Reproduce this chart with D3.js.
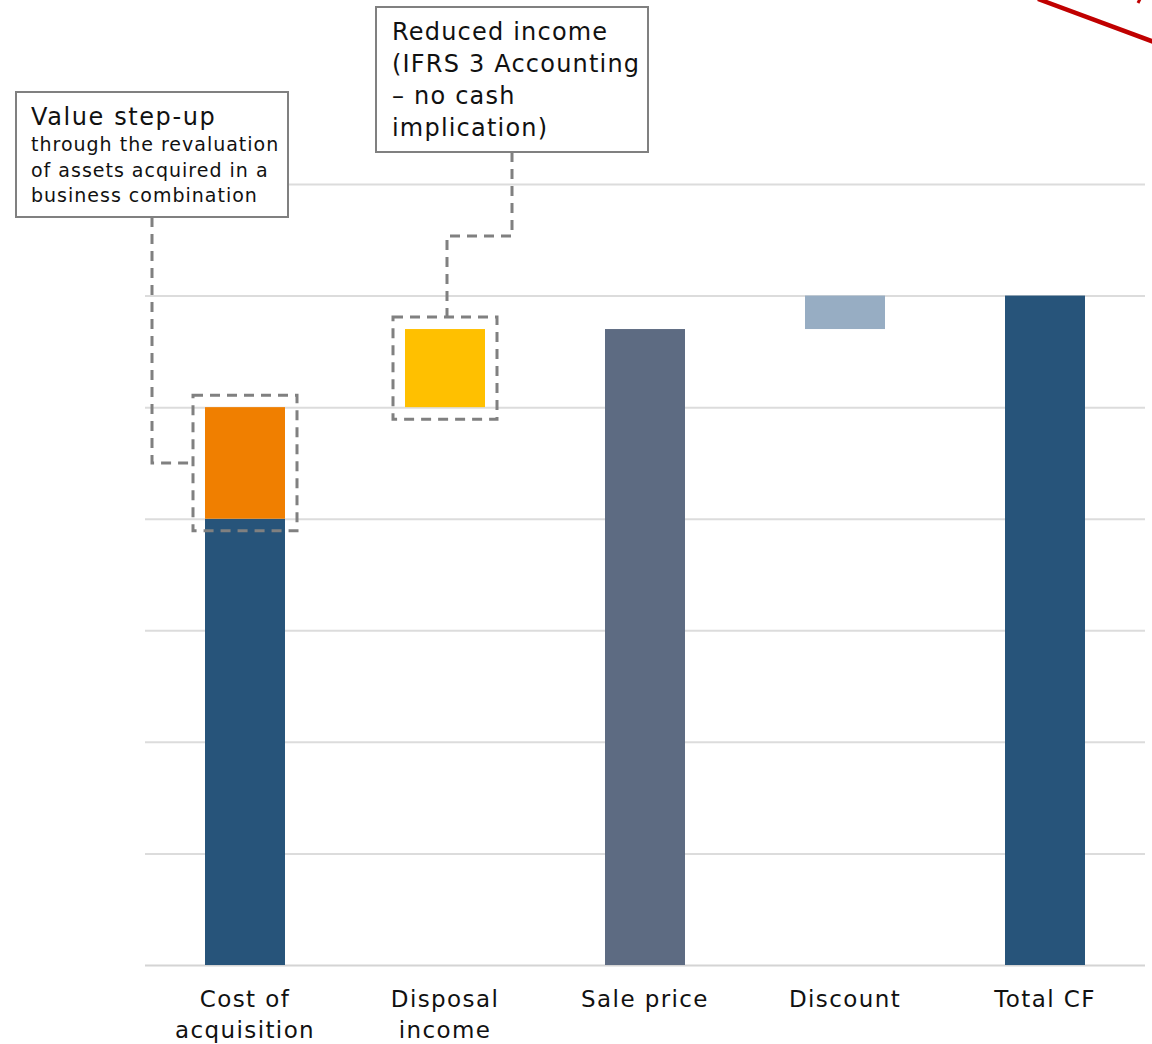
<!DOCTYPE html>
<html>
<head>
<meta charset="utf-8">
<script src="https://cdn.jsdelivr.net/npm/d3@7"></script>
<style>
  body { margin: 0; background: #fff; }
  text { font-family: "DejaVu Sans", sans-serif; fill: #111; }
</style>
</head>
<body>
<div id="chart"></div>
<script>
// categories and axis label lines
const categories = ["Cost of acquisition", "Disposal income", "Sale price", "Discount", "Total CF"];
const categoryLines = [["Cost of", "acquisition"], ["Disposal", "income"], ["Sale price"], ["Discount"], ["Total CF"]];

// waterfall segments (category index, start value, end value, kind)
const segCategory = [0, 0, 1, 2, 3, 4];
const segFrom = [0, 4, 5, 0, 5.7, 0];
const segTo = [4, 5, 5.7, 5.7, 6, 6];
const segKind = ["total", "stepup", "income", "sale", "discount", "total"];

const gridValues = [0, 1, 2, 3, 4, 5, 6, 7];

// annotation texts
const note1Title = "Value step-up";
const note1Lines = ["through the revaluation", "of assets acquired in a", "business combination"];
const note2Lines = ["Reduced income", "(IFRS 3 Accounting", "\u2013 no cash", "implication)"];

function init() {
    const W = 1152, H = 1044;
    const colors = {
        total: "#27547a",
        stepup: "#f07f00",
        income: "#ffc000",
        sale: "#5d6b82",
        discount: "#97adc3"
    };

    const svg = d3.select("#chart").append("svg")
        .attr("width", W)
        .attr("height", H);

    const x = d3.scaleBand()
        .domain(categories)
        .range([145, 1145])
        .paddingInner(0.6)
        .paddingOuter(0.3);

    const y = d3.scaleLinear()
        .domain([0, 7])
        .range([965, 184]);

    // gridlines
    svg.append("g")
        .selectAll("line")
        .data(gridValues)
        .enter()
        .append("line")
        .attr("x1", 145)
        .attr("x2", 1145)
        .attr("y1", d => y(d) + 0.5)
        .attr("y2", d => y(d) + 0.5)
        .attr("stroke", d => d === 0 ? "#d4d4d4" : "#dcdcdc")
        .attr("stroke-width", 2);

    // bars
    svg.append("g")
        .selectAll("rect")
        .data(segCategory.map((c, i) => i))
        .enter()
        .append("rect")
        .attr("x", i => x(categories[segCategory[i]]))
        .attr("width", x.bandwidth())
        .attr("y", i => y(segTo[i]))
        .attr("height", i => y(segFrom[i]) - y(segTo[i]))
        .attr("fill", i => colors[segKind[i]]);

    // x axis labels
    const axis = svg.append("g")
        .attr("transform", "translate(0,965)")
        .call(d3.axisBottom(x).tickSize(0).tickFormat(""));
    axis.select(".domain").remove();
    axis.selectAll(".tick").each(function (d, i) {
        const t = d3.select(this).append("text")
            .attr("text-anchor", "middle")
            .style("font-size", "23px")
            .style("letter-spacing", "1.4px")
            .style("fill", "#111");
        categoryLines[i].forEach((s, k) => {
            t.append("tspan").attr("x", 0).attr("y", 42 + k * 31).text(s);
        });
    });

    const dashStyle = g => g
        .attr("fill", "none")
        .attr("stroke", "#808080")
        .attr("stroke-width", 3)
        .attr("stroke-dasharray", "10,7");

    // dashed highlight boxes round the step-up and income segments
    const pad = 12;
    [1, 2].forEach(i => {
        const bx = x(categories[segCategory[i]]);
        svg.append("rect")
            .attr("x", bx - pad)
            .attr("y", y(segTo[i]) - pad)
            .attr("width", x.bandwidth() + 2 * pad)
            .attr("height", y(segFrom[i]) - y(segTo[i]) + 2 * pad)
            .call(dashStyle);
    });

    // connectors
    const c1x = x(categories[0]) - pad;
    const c1y = (y(segTo[1]) + y(segFrom[1])) / 2;
    svg.append("path")
        .attr("d", `M152,217 V${c1y} H${c1x}`)
        .call(dashStyle);
    const c2x = x(categories[1]) + x.bandwidth() / 2 + 2;
    svg.append("path")
        .attr("d", `M512,152 V236 H${c2x} V${y(segTo[2]) - pad}`)
        .call(dashStyle);

    // annotation boxes
    svg.append("rect")
        .attr("x", 16).attr("y", 92).attr("width", 272).attr("height", 125)
        .attr("fill", "#fff").attr("stroke", "#808080").attr("stroke-width", 2);
    svg.append("text")
        .attr("x", 31).attr("y", 125)
        .style("font-size", "24px")
        .style("letter-spacing", "1.6px")
        .text(note1Title);
    note1Lines.forEach((s, k) => {
        svg.append("text")
            .attr("x", 31).attr("y", 151 + k * 25.5)
            .style("font-size", "19px")
            .style("letter-spacing", "1px")
            .text(s);
    });

    svg.append("rect")
        .attr("x", 376).attr("y", 7).attr("width", 272).attr("height", 145)
        .attr("fill", "#fff").attr("stroke", "#808080").attr("stroke-width", 2);
    note2Lines.forEach((s, k) => {
        svg.append("text")
            .attr("x", 392).attr("y", 40 + k * 32)
            .style("font-size", "24px")
            .style("letter-spacing", "1.2px")
            .text(s);
    });

    // red line cut off at the top right
    svg.append("line")
        .attr("x1", 1038).attr("y1", -1)
        .attr("x2", 1154).attr("y2", 42)
        .attr("stroke", "#c00000")
        .attr("stroke-width", 4.5);
    svg.append("line")
        .attr("x1", 1138).attr("y1", 3)
        .attr("x2", 1141).attr("y2", -3)
        .attr("stroke", "#c00000")
        .attr("stroke-width", 3);
}

window.onload = init;
</script>
</body>
</html>
